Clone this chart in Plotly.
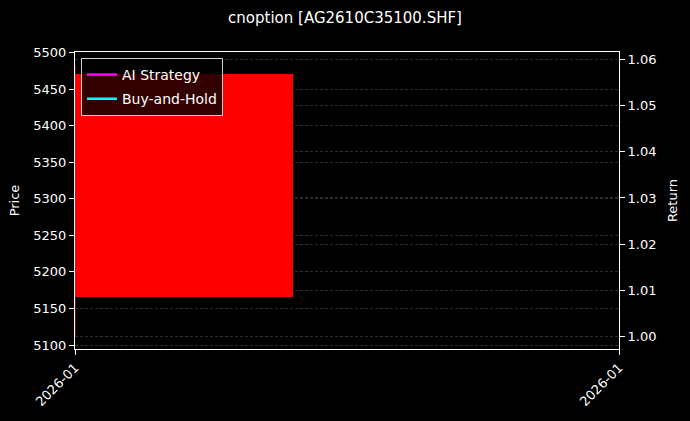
import plotly.graph_objects as go

# one daily bar of the option, plus the two return curves
dates = ["2026-01-09"]
open_px = [5471]
high_px = [5482]
low_px = [5113]
close_px = [5166]
ai_strategy = [1.0]
buy_and_hold = [1.0]
x_ticks = ["2026-01-09", "2026-01-10"]
x_tick_labels = ["2026-01", "2026-01"]

FONT = "DejaVu Sans"
DAY_MS = 24 * 3600 * 1000

fig = go.Figure()

# candle wick + body (body width 0.8 day, like mplfinance)
for d, h, l in zip(dates, high_px, low_px):
    fig.add_trace(go.Scatter(x=[d, d], y=[l, h], mode="lines",
                             line=dict(color="red", width=1), showlegend=False))
fig.add_trace(go.Bar(
    x=dates,
    y=[abs(o - c) for o, c in zip(open_px, close_px)],
    base=[min(o, c) for o, c in zip(open_px, close_px)],
    width=0.8 * DAY_MS,
    marker=dict(color=["red" if c < o else "lime" for o, c in zip(open_px, close_px)], line_width=0),
    showlegend=False,
))

fig.add_trace(go.Scatter(x=dates, y=ai_strategy, mode="lines", name="AI Strategy",
                         legendgroup="ai", line=dict(color="#ff00ff", width=2.5), yaxis="y2"))
fig.add_trace(go.Scatter(x=dates, y=buy_and_hold, mode="lines", name="Buy-and-Hold",
                         legendgroup="bh", line=dict(color="#00ffff", width=2.5), yaxis="y2"))

grid = dict(showgrid=True, gridcolor="rgba(128,128,128,0.35)", griddash="3px,2px", gridwidth=0.6)

fig.update_layout(
    width=690, height=421,
    paper_bgcolor="black", plot_bgcolor="black",
    font=dict(family=FONT, color="white", size=13),
    margin=dict(l=75, r=71, t=52, b=70),
    title=dict(text="cnoption [AG2610C35100.SHF]", x=0.5, xanchor="center",
               y=0.957, yanchor="middle", font=dict(size=15)),
    bargap=0,
    xaxis=dict(type="date", range=[x_ticks[0], x_ticks[1]], tickvals=x_ticks,
               ticktext=x_tick_labels, tickangle=-45, showgrid=False, zeroline=False,
               showline=True, linecolor="white", mirror=True, ticks="outside",
               tickcolor="white", ticklen=5),
    yaxis=dict(title=dict(text="Price", standoff=10, font=dict(size=13)), range=[5094.6, 5500.7],
               tickvals=[5100, 5150, 5200, 5250, 5300, 5350, 5400, 5450, 5500],
               showline=True, linecolor="white", ticks="outside", tickcolor="white",
               ticklen=5, zeroline=False, **grid),
    yaxis2=dict(title=dict(text="Return", standoff=12, font=dict(size=13)), overlaying="y", side="right",
                range=[0.9972, 1.0617], tickformat=".2f", dtick=0.01,
                showline=True, linecolor="white", ticks="outside", tickcolor="white",
                ticklen=5, zeroline=False, **grid),
    legend=dict(x=0.011, y=0.98, xanchor="left", yanchor="top",
                bgcolor="rgba(0,0,0,0.8)", bordercolor="#cccccc", borderwidth=1,
                font=dict(size=14), traceorder="grouped", tracegroupgap=3, itemwidth=30),
)

fig.write_html("out.html", config={"displayModeBar": False},
               post_script="document.body.style.margin='0';document.body.style.background='black';")
